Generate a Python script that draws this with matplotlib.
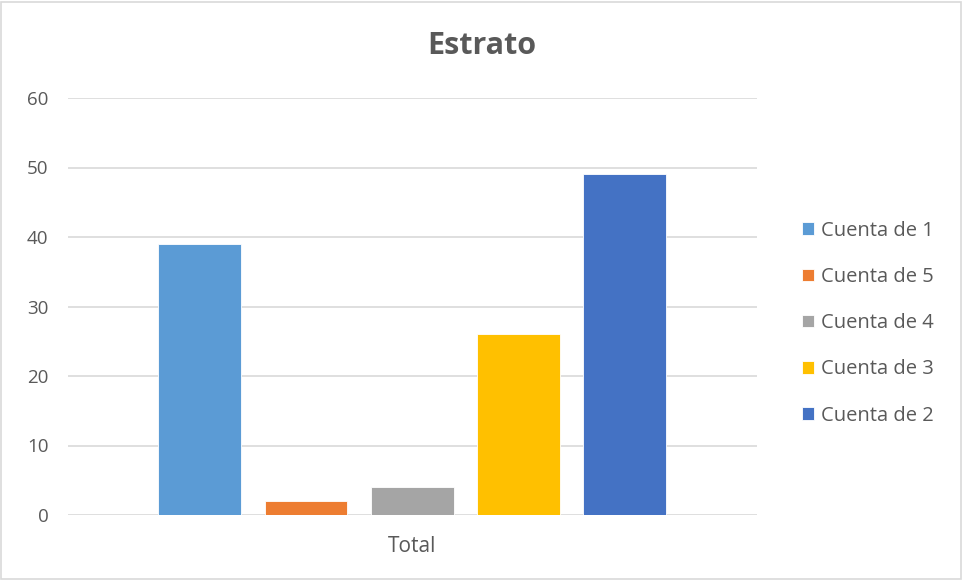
import matplotlib.pyplot as plt
from matplotlib.patches import Rectangle

series = ["Cuenta de 1", "Cuenta de 5", "Cuenta de 4", "Cuenta de 3", "Cuenta de 2"]
values = [39, 2, 4, 26, 49]
colores = ["#5B9BD5", "#ED7D31", "#A5A5A5", "#FFC000", "#4472C4"]
category = "Total"

plt.rcParams["font.family"] = ["Open Sans", "DejaVu Sans"]
gris = "#595959"

fig = plt.figure(figsize=(9.63, 5.80), dpi=100)
ax = fig.add_axes([68 / 963, 1 - 515 / 580, (757 - 68) / 963, (515 - 98) / 580])

n = len(values)
posiciones = [i - (n - 1) / 2 for i in range(n)]
handles = []
for pos, val, col, nombre in zip(posiciones, values, colores, series):
    h = ax.bar(pos, val, width=0.78, color=col, edgecolor="white", linewidth=0.6,
               label=nombre, zorder=3)
    handles.append(h)

ax.set_xlim(-3.24, 3.245)
ax.set_ylim(0, 60)
ax.set_yticks(range(0, 61, 10))
ax.set_xticks([0])
ax.set_xticklabels([category])
ax.grid(axis="y", color="#D9D9D9", linewidth=1.2, zorder=0)
for s in ax.spines.values():
    s.set_visible(False)
ax.tick_params(axis="both", length=0, labelcolor=gris)
ax.tick_params(axis="y", labelsize=13.5, pad=14)
ax.tick_params(axis="x", labelsize=15, pad=15)

fig.suptitle("Estrato", x=482 / 963, y=1 - 46 / 580, va="center",
             fontsize=22, fontweight="bold", color=gris)

leg = ax.legend(handles=handles, loc="center left", bbox_to_anchor=(1.036, 0.46),
                frameon=False, fontsize=14.5, labelcolor=gris, handlelength=0.6,
                handleheight=0.6, handletextpad=0.35, labelspacing=1.3,
                borderaxespad=0.6)

fig.patches.append(Rectangle((0.001, 0.002), 0.997, 0.995, transform=fig.transFigure,
                             fill=False, edgecolor="#D9D9D9", linewidth=1.2))

fig.savefig("out.png", dpi=100)
plt.close(fig)
